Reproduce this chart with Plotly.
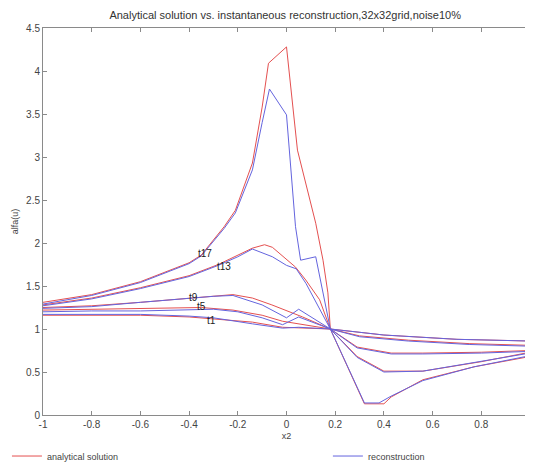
import plotly.graph_objects as go

# ---- data ----
t17_ana_x = [-1, -0.8, -0.6, -0.4, -0.35, -0.256, -0.21, -0.14, -0.10, -0.074, 0.0, 0.045, 0.12, 0.15, 0.17, 0.18, 0.32, 0.40, 0.43, 0.56, 0.77, 1.0]
t17_ana_y = [1.31, 1.40, 1.55, 1.77, 1.86, 2.19, 2.38, 2.93, 3.58, 4.09, 4.28, 3.08, 2.23, 1.80, 1.42, 1.00, 0.13, 0.13, 0.21, 0.41, 0.56, 0.68]
t17_rec_x = [-1, -0.8, -0.6, -0.4, -0.35, -0.256, -0.21, -0.14, -0.10, -0.07, 0.0, 0.037, 0.058, 0.12, 0.18, 0.32, 0.38, 0.43, 0.56, 0.77, 1.0]
t17_rec_y = [1.29, 1.39, 1.54, 1.76, 1.85, 2.17, 2.35, 2.85, 3.40, 3.79, 3.49, 2.19, 1.80, 1.84, 1.00, 0.14, 0.14, 0.22, 0.40, 0.56, 0.69]

t13_ana_x = [-1, -0.8, -0.6, -0.4, -0.28, -0.2, -0.14, -0.09, -0.058, 0.037, 0.079, 0.136, 0.18, 0.29, 0.40, 0.56, 0.8, 1.0]
t13_ana_y = [1.28, 1.36, 1.48, 1.62, 1.75, 1.86, 1.94, 1.98, 1.95, 1.72, 1.57, 1.34, 1.00, 0.68, 0.51, 0.51, 0.62, 0.73]
t13_rec_x = [-1, -0.8, -0.6, -0.4, -0.28, -0.2, -0.14, -0.058, 0.0, 0.04, 0.08, 0.18, 0.29, 0.40, 0.56, 0.8, 1.0]
t13_rec_y = [1.27, 1.35, 1.47, 1.61, 1.74, 1.84, 1.93, 1.84, 1.74, 1.70, 1.53, 1.00, 0.67, 0.50, 0.51, 0.62, 0.72]

t9_ana_x = [-1, -0.8, -0.6, -0.4, -0.3, -0.22, -0.14, -0.06, 0.066, 0.18, 0.29, 0.43, 0.56, 0.8, 1.0]
t9_ana_y = [1.25, 1.27, 1.31, 1.36, 1.38, 1.40, 1.36, 1.28, 1.14, 1.00, 0.79, 0.72, 0.72, 0.73, 0.75]
t9_rec_x = [-1, -0.8, -0.6, -0.4, -0.3, -0.22, -0.1, 0.0, 0.05, 0.18, 0.29, 0.43, 0.56, 0.8, 1.0]
t9_rec_y = [1.24, 1.26, 1.31, 1.36, 1.38, 1.39, 1.28, 1.13, 1.23, 1.00, 0.78, 0.71, 0.71, 0.72, 0.74]

t5_ana_x = [-1, -0.8, -0.6, -0.45, -0.35, -0.22, -0.1, -0.016, 0.066, 0.18, 0.3, 0.5, 0.75, 1.0]
t5_ana_y = [1.22, 1.23, 1.24, 1.24, 1.25, 1.22, 1.16, 1.09, 1.05, 1.00, 0.92, 0.87, 0.83, 0.81]
t5_rec_x = [-1, -0.8, -0.6, -0.4, -0.3, -0.2, -0.1, -0.016, 0.05, 0.18, 0.3, 0.5, 0.75, 1.0]
t5_rec_y = [1.20, 1.21, 1.21, 1.22, 1.23, 1.20, 1.13, 1.05, 1.14, 1.00, 0.91, 0.86, 0.82, 0.80]

t1_ana_x = [-1, -0.6, -0.4, -0.3, -0.14, -0.016, 0.18, 0.4, 0.7, 1.0]
t1_ana_y = [1.16, 1.16, 1.14, 1.12, 1.08, 1.02, 1.00, 0.93, 0.88, 0.86]
t1_rec_x = [-1, -0.6, -0.4, -0.3, -0.14, -0.016, 0.05, 0.18, 0.4, 0.7, 1.0]
t1_rec_y = [1.17, 1.17, 1.15, 1.13, 1.06, 1.01, 1.02, 1.00, 0.93, 0.88, 0.86]

curve_labels = ["t17", "t13", "t9", "t5", "t1"]
label_x = [-0.335, -0.256, -0.38, -0.35, -0.31]
label_y = [1.88, 1.73, 1.37, 1.26, 1.10]

x_ticks = [-1, -0.8, -0.6, -0.4, -0.2, 0, 0.2, 0.4, 0.6, 0.8]
y_ticks = [0, 0.5, 1, 1.5, 2, 2.5, 3, 3.5, 4, 4.5]

title_text = "Analytical solution vs. instantaneous reconstruction,32x32grid,noise10%"

RED = "rgb(228,80,80)"
BLUE = "rgb(100,100,222)"
FONT = "Liberation Sans, Arial, sans-serif"

fig = go.Figure()

pairs = [
    (t17_ana_x, t17_ana_y, t17_rec_x, t17_rec_y),
    (t13_ana_x, t13_ana_y, t13_rec_x, t13_rec_y),
    (t9_ana_x, t9_ana_y, t9_rec_x, t9_rec_y),
    (t5_ana_x, t5_ana_y, t5_rec_x, t5_rec_y),
    (t1_ana_x, t1_ana_y, t1_rec_x, t1_rec_y),
]
for i, (ax, ay, rx, ry) in enumerate(pairs):
    fig.add_trace(go.Scatter(x=ax, y=ay, mode="lines", line=dict(color=RED, width=1),
                             name="analytical solution", legendgroup="ana",
                             legend="legend", showlegend=(i == 0)))
for i, (ax, ay, rx, ry) in enumerate(pairs):
    fig.add_trace(go.Scatter(x=rx, y=ry, mode="lines", line=dict(color=BLUE, width=1),
                             name="reconstruction", legendgroup="rec",
                             legend="legend2", showlegend=(i == 0)))

for txt, lx, ly in zip(curve_labels, label_x, label_y):
    fig.add_annotation(x=lx, y=ly, text=txt, showarrow=False,
                       font=dict(family=FONT, size=10, color="#222"))

axis_common = dict(showline=True, linecolor="#8a8a8a", linewidth=1, mirror="ticks",
                   ticks="inside", ticklen=4, tickcolor="#8a8a8a", showgrid=False,
                   zeroline=False, automargin=False,
                   tickfont=dict(family=FONT, size=10, color="#444"))

fig.update_xaxes(range=[-1, 1], tickvals=x_ticks, ticktext=[f"{v:g}" for v in x_ticks],
                 title=dict(text="x2", font=dict(family=FONT, size=9, color="#444"), standoff=3),
                 **axis_common)
fig.update_yaxes(range=[0, 4.5], tickvals=y_ticks, ticktext=[f"{v:g}" for v in y_ticks],
                 title=dict(text="alfa(u)", font=dict(family=FONT, size=9, color="#444"), standoff=5),
                 **axis_common)

legend_font = dict(family=FONT, size=9, color="#444")
fig.update_layout(
    width=525, height=458,
    margin=dict(l=35, r=3, t=20, b=51, autoexpand=False),
    paper_bgcolor="white", plot_bgcolor="white",
    title=dict(text=title_text, x=0.528, xanchor="center", y=0.985, yanchor="middle",
               font=dict(family=FONT, size=11, color="#333")),
    legend=dict(orientation="h", x=-0.074, xanchor="left", y=-0.106, yanchor="middle",
                font=legend_font, bgcolor="rgba(0,0,0,0)"),
    legend2=dict(orientation="h", x=0.585, xanchor="left", y=-0.106, yanchor="middle",
                 font=legend_font, bgcolor="rgba(0,0,0,0)"),
)

fig.write_html("out.html")
